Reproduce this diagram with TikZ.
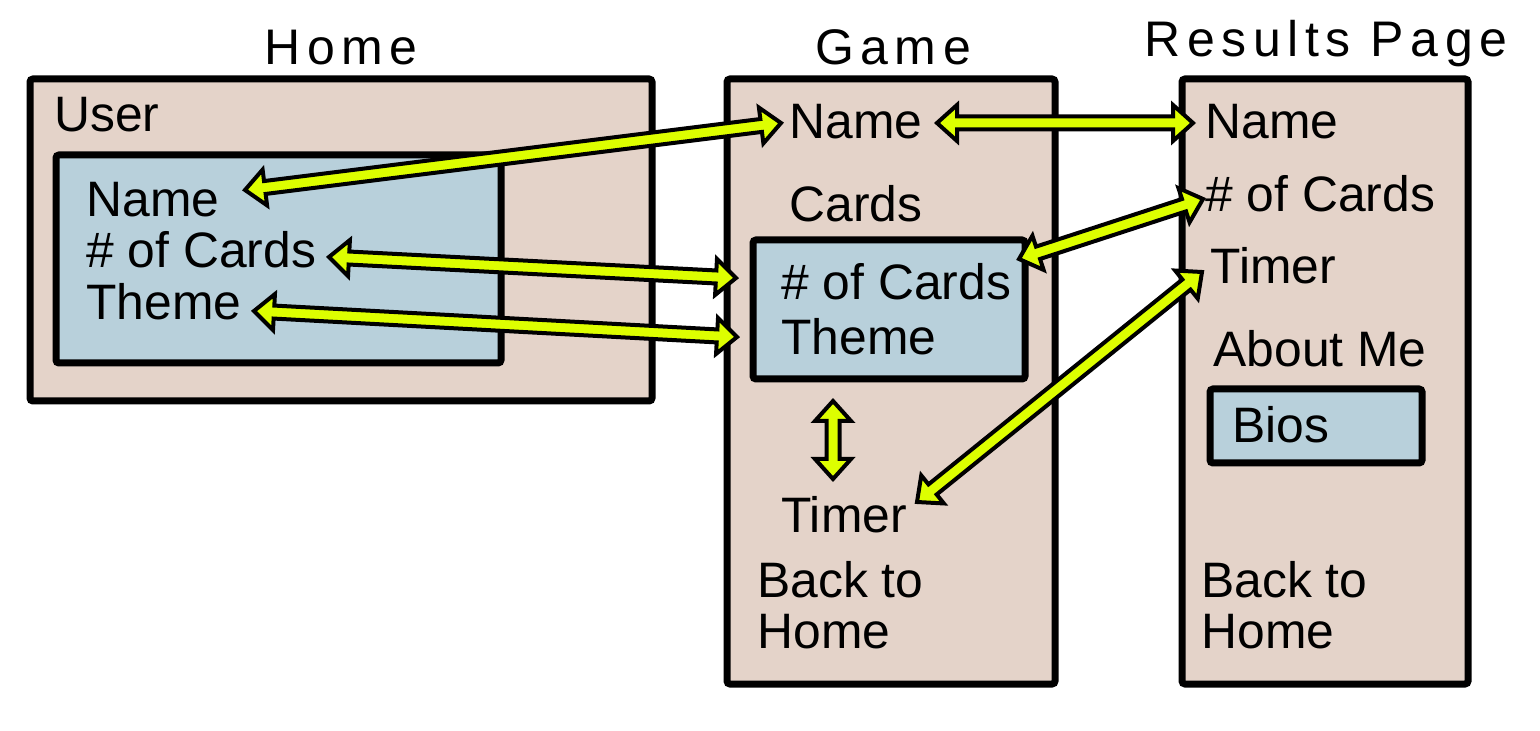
\documentclass[tikz,border=0pt]{standalone}
\usepackage{fontspec}
\setmainfont{Liberation Sans}
\newfontfamily\titlefont[LetterSpace=13]{Liberation Sans}
\usetikzlibrary{calc}
\definecolor{beige}{HTML}{E4D3C9}
\definecolor{paleblue}{HTML}{B8D0DB}
\definecolor{lime}{HTML}{DDFF00}
\newcommand\dblarr[2]{%
  \coordinate (ta) at ($(#1)!10pt!(#2)$);
  \coordinate (tb) at ($(#2)!10pt!(#1)$);
  \filldraw[arrsty] (#1) -- ($(ta)!9pt!90:(#2)$) -- ($(ta)!3.25pt!90:(#2)$)
    -- ($(tb)!3.25pt!-90:(#1)$) -- ($(tb)!9pt!-90:(#1)$) -- (#2)
    -- ($(tb)!9pt!90:(#1)$) -- ($(tb)!3.25pt!90:(#1)$)
    -- ($(ta)!3.25pt!-90:(#2)$) -- ($(ta)!9pt!-90:(#2)$) -- cycle;}
\begin{document}
\begin{tikzpicture}[x=0.5pt,y=-0.5pt,
  panel/.style={draw=black, line width=3.5pt, fill=beige, rounded corners=1.5pt},
  innerbox/.style={draw=black, line width=3.5pt, fill=paleblue, rounded corners=1.5pt},
  lbl/.style={anchor=base west, inner sep=0pt, font=\fontsize{24.9pt}{29pt}\selectfont},
  ttl/.style={anchor=base, inner sep=0pt, font=\titlefont\fontsize{25pt}{30pt}\selectfont},
  arrsty/.style={draw=black, line width=2pt, fill=lime, line join=miter}]
\useasboundingbox (0,0) rectangle (1540,731);

% panels
\draw[panel] (30,79) rectangle (652,401);
\draw[innerbox] (56,155) rectangle (501,363);
\draw[panel] (727,79) rectangle (1055,684);
\draw[innerbox] (753,240) rectangle (1025,379);
\draw[panel] (1182,79) rectangle (1468,684);
\draw[innerbox] (1210,389) rectangle (1422,463);

% titles
\node[ttl] (tHome) at (341,65) {Home};
\node[ttl] (tGame) at (893,65) {Game};
\node[ttl] (tRes) at (1326,57) {Results Page};

% Home labels
\node[lbl] (hUser) at (54,132) {User};
\node[lbl] (hNameT) at (86,217) {Name};
\node[lbl] (hCardsT) at (86,268) {\# of Cards};
\node[lbl] (hThemeT) at (86,320) {Theme};

% Game labels
\node[lbl] (gNameT) at (789,139) {Name};
\node[lbl] (gCardsHd) at (789,222) {Cards};
\node[lbl] (gCardsT) at (781,300) {\# of Cards};
\node[lbl] (gThemeT) at (781,355) {Theme};
\node[lbl] (gTimerT) at (781,532) {Timer};
\node[lbl] (gBack) at (757,597) {Back to};
\node[lbl] (gHome) at (757,648) {Home};

% Results labels
\node[lbl] (rNameT) at (1205,139) {Name};
\node[lbl] (rCardsT) at (1205,212) {\# of Cards};
\node[lbl] (rTimerT) at (1210,284) {Timer};
\node[lbl] (rAbout) at (1213,367) {About Me};
\node[lbl] (rBios) at (1232,443) {Bios};
\node[lbl] (rBack) at (1201,597) {Back to};
\node[lbl] (rHome) at (1201,648) {Home};

% arrow end points
\coordinate (hName) at (245,190);
\coordinate (gName) at (781,123);
\coordinate (hCards) at (329,257);
\coordinate (gCardsIn) at (736,278);
\coordinate (hTheme) at (254,311);
\coordinate (gTheme) at (737,337);
\coordinate (gNameR) at (937,123);
\coordinate (rName) at (1193,123);
\coordinate (gCards) at (1019,259);
\coordinate (rCards) at (1203,199);
\coordinate (gTimer) at (917,502);
\coordinate (rTimer) at (1202,272);
\coordinate (vTop) at (833,401);
\coordinate (vBot) at (833,479);

\dblarr{hName}{gName}
\dblarr{hCards}{gCardsIn}
\dblarr{hTheme}{gTheme}
\dblarr{gNameR}{rName}
\dblarr{gCards}{rCards}
\dblarr{gTimer}{rTimer}
\dblarr{vTop}{vBot}
\end{tikzpicture}
\end{document}
